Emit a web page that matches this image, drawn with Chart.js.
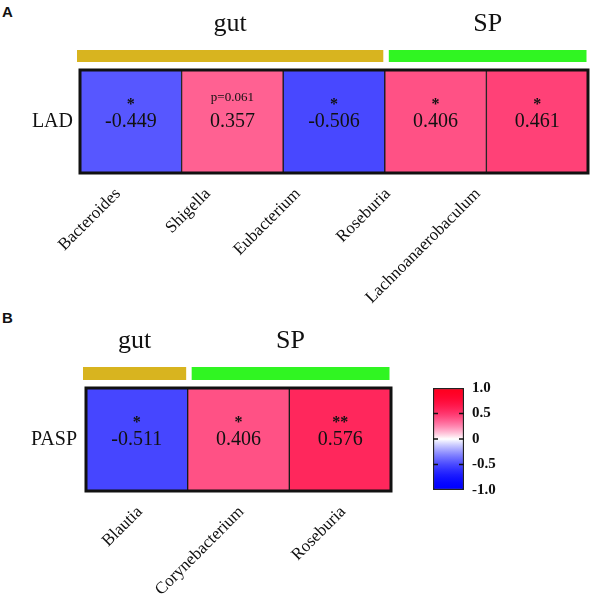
<!DOCTYPE html>
<html lang="en">
<head>
    <meta charset="UTF-8">
    <title>Correlation heatmaps</title>
    <script src="https://cdn.jsdelivr.net/npm/chart.js"></script>
    <style>
        body {
            margin: 0;
            background: #fff;
            width: 591px;
            height: 601px;
            position: relative;
            overflow: hidden;
        }
        canvas {
            position: absolute;
        }
        .tag {
            position: absolute;
            font: bold 15px "Liberation Sans", Arial, sans-serif;
            line-height: 15px;
            color: #111;
        }
        #cvA { left: 0; top: 0; z-index: 2; }
        #cvB { left: 0; top: 300px; }
        #cvC { left: 400px; top: 360px; }
    </style>
</head>
<body>
    <div class="tag" style="left: 2px; top: 4px;">A</div>
    <div class="tag" style="left: 2px; top: 310px;">B</div>
    <canvas id="cvA" width="591" height="320"></canvas>
    <canvas id="cvB" width="420" height="301"></canvas>
    <canvas id="cvC" width="130" height="150"></canvas>
    <script>
        // panel A - LAD
        const taxaA = ['Bacteroides', 'Shigella', 'Eubacterium', 'Roseburia', 'Lachnoanaerobaculum'];
        const groupsA = ['gut', 'gut', 'gut', 'SP', 'SP'];
        const rA = [-0.449, 0.357, -0.506, 0.406, 0.461];
        const sigA = ['*', 'p=0.061', '*', '*', '*'];

        // panel B - PASP
        const taxaB = ['Blautia', 'Corynebacterium', 'Roseburia'];
        const groupsB = ['gut', 'SP', 'SP'];
        const rB = [-0.511, 0.406, 0.576];
        const sigB = ['*', '*', '**'];

        // colour bar
        const barTicks = [-1, -0.5, 0, 0.5, 1];

        const groupColors = { gut: '#d8b41f', SP: '#30f522' };

        Chart.defaults.font.family = '"Liberation Serif", "Times New Roman", serif';
        Chart.defaults.color = '#111';

        function heatColor(v) {
            if (v >= 0) {
                const g = Math.round(255 * Math.pow(1 - v, 2.2));
                const b = Math.round(30 + 225 * Math.pow(1 - v, 1.5));
                return `rgb(255,${g},${b})`;
            }
            const c = Math.round(255 * Math.pow(1 + v, 1.8));
            return `rgb(${c},${c},255)`;
        }

        // cell texts, frame and group strips
        const heatPlugin = {
            id: 'heatText',
            afterDatasetsDraw(chart, args, opts) {
                const { ctx, chartArea: ca } = chart;
                const bars = chart.getDatasetMeta(0).data;
                const cy = (ca.top + ca.bottom) / 2;
                ctx.save();
                ctx.lineWidth = 3;
                ctx.strokeStyle = '#111';
                ctx.strokeRect(ca.left, ca.top, ca.right - ca.left, ca.bottom - ca.top);

                ctx.fillStyle = '#111';
                ctx.textAlign = 'center';
                ctx.textBaseline = 'middle';
                bars.forEach((bar, i) => {
                    ctx.font = '20px "Liberation Serif"';
                    ctx.fillText(opts.r[i].toFixed(3), bar.x, cy);
                    const s = opts.sig[i];
                    if (s.startsWith('p')) {
                        ctx.font = '13px "Liberation Serif"';
                        ctx.fillText(s, bar.x, cy - 24);
                    } else {
                        ctx.font = 'bold 16px "Liberation Serif"';
                        ctx.fillText(s, bar.x, cy - 17);
                    }
                });

                // group strips + names
                const g = opts.groups;
                let start = 0;
                for (let i = 1; i <= g.length; i++) {
                    if (i < g.length && g[i] === g[start]) continue;
                    const l = bars[start].x - bars[start].width / 2 + (start === 0 ? -3 : 4);
                    const r = bars[i - 1].x + bars[i - 1].width / 2 - 1.5;
                    const top = ca.top - 8 - opts.stripH;
                    ctx.fillStyle = groupColors[g[start]];
                    ctx.fillRect(l, top, r - l, opts.stripH);
                    ctx.fillStyle = '#111';
                    ctx.font = '26px "Liberation Serif"';
                    ctx.textBaseline = 'alphabetic';
                    ctx.fillText(g[start], (l + r) / 2, top - 19);
                    ctx.textBaseline = 'middle';
                    start = i;
                }
                ctx.restore();
            }
        };

        function makeHeatmap(id, p) {
            return new Chart(document.getElementById(id), {
                type: 'bar',
                data: {
                    labels: p.taxa,
                    datasets: [{
                        data: p.r.map(() => [0, 1]),
                        backgroundColor: p.r.map(heatColor),
                        borderColor: '#1a1a1a',
                        borderWidth: 1,
                        borderSkipped: false,
                        barPercentage: 1,
                        categoryPercentage: 1
                    }]
                },
                options: {
                    responsive: false,
                    animation: false,
                    layout: { padding: p.pad },
                    plugins: {
                        legend: { display: false },
                        tooltip: { enabled: false },
                        heatText: { r: p.r, sig: p.sig, groups: p.groups, stripH: p.stripH }
                    },
                    scales: {
                        x: { display: false },
                        y: { display: false, min: 0, max: 1 },
                        row: {
                            type: 'category',
                            axis: 'y',
                            position: 'left',
                            labels: [p.row],
                            offset: true,
                            grid: { display: false, drawTicks: false },
                            border: { display: false },
                            ticks: { padding: p.rowPad, font: { size: 20 } },
                            afterFit: s => { s.width = p.rowW; }
                        },
                        lab: {
                            type: 'linear',
                            axis: 'x',
                            position: 'bottom',
                            offset: false,
                            bounds: 'data',
                            min: p.labMin,
                            max: p.labMax,
                            grid: { display: false, drawTicks: false },
                            border: { display: false },
                            afterBuildTicks: s => { s.ticks = p.taxa.map((_, i) => ({ value: i })); },
                            ticks: {
                                autoSkip: false,
                                minRotation: 45,
                                maxRotation: 45,
                                padding: 11,
                                font: { size: 17 },
                                callback: v => p.taxa[v]
                            },
                            afterFit: s => { s.height = p.labH; }
                        }
                    }
                },
                plugins: [heatPlugin]
            });
        }

        makeHeatmap('cvA', {
            taxa: taxaA, r: rA, sig: sigA, groups: groupsA, row: 'LAD',
            pad: { top: 70, right: 3, left: 0, bottom: 0 },
            rowW: 80, rowPad: 7, labH: 147, stripH: 12,
            labMin: -0.422, labMax: 5.222
        });

        makeHeatmap('cvB', {
            taxa: taxaB, r: rB, sig: sigB, groups: groupsB, row: 'PASP',
            pad: { top: 88, right: 29, left: 0, bottom: 0 },
            rowW: 86, rowPad: 9, labH: 110, stripH: 13,
            labMin: -0.53, labMax: 2.47
        });

        // colour bar
        const barMarks = {
            id: 'barMarks',
            afterDatasetsDraw(chart) {
                const { ctx, chartArea: ca, scales: { y } } = chart;
                ctx.save();
                ctx.strokeStyle = '#111';
                ctx.lineWidth = 1.5;
                barTicks.filter(v => Math.abs(v) < 1).forEach(v => {
                    const py = y.getPixelForValue(v);
                    ctx.beginPath();
                    ctx.moveTo(ca.left, py); ctx.lineTo(ca.left + 5, py);
                    ctx.moveTo(ca.right - 5, py); ctx.lineTo(ca.right, py);
                    ctx.stroke();
                });
                ctx.restore();
            }
        };

        new Chart(document.getElementById('cvC'), {
            type: 'bar',
            data: {
                labels: [''],
                datasets: [{
                    data: [[barTicks[0], barTicks[barTicks.length - 1]]],
                    backgroundColor: ctx => {
                        const ca = ctx.chart.chartArea;
                        if (!ca) return '#fff';
                        const grad = ctx.chart.ctx.createLinearGradient(0, ca.bottom, 0, ca.top);
                        for (let k = 0; k <= 40; k++) {
                            grad.addColorStop(k / 40, heatColor(-1 + k / 20));
                        }
                        return grad;
                    },
                    borderColor: '#222',
                    borderWidth: 1.5,
                    borderSkipped: false,
                    barPercentage: 1,
                    categoryPercentage: 1
                }]
            },
            options: {
                responsive: false,
                animation: false,
                layout: { padding: { left: 33, top: 28, bottom: 20, right: 0 } },
                plugins: { legend: { display: false }, tooltip: { enabled: false } },
                scales: {
                    x: { display: false },
                    y: {
                        position: 'right',
                        min: -1,
                        max: 1,
                        grid: { display: false, drawTicks: false },
                        border: { display: false },
                        afterBuildTicks: s => { s.ticks = barTicks.map(v => ({ value: v })); },
                        ticks: {
                            padding: 8,
                            font: { size: 15, weight: 'bold' },
                            callback: v => v === 0 ? '0' : v.toFixed(1)
                        },
                        afterFit: s => { s.width = 66; }
                    }
                }
            },
            plugins: [barMarks]
        });
    </script>
</body>
</html>
